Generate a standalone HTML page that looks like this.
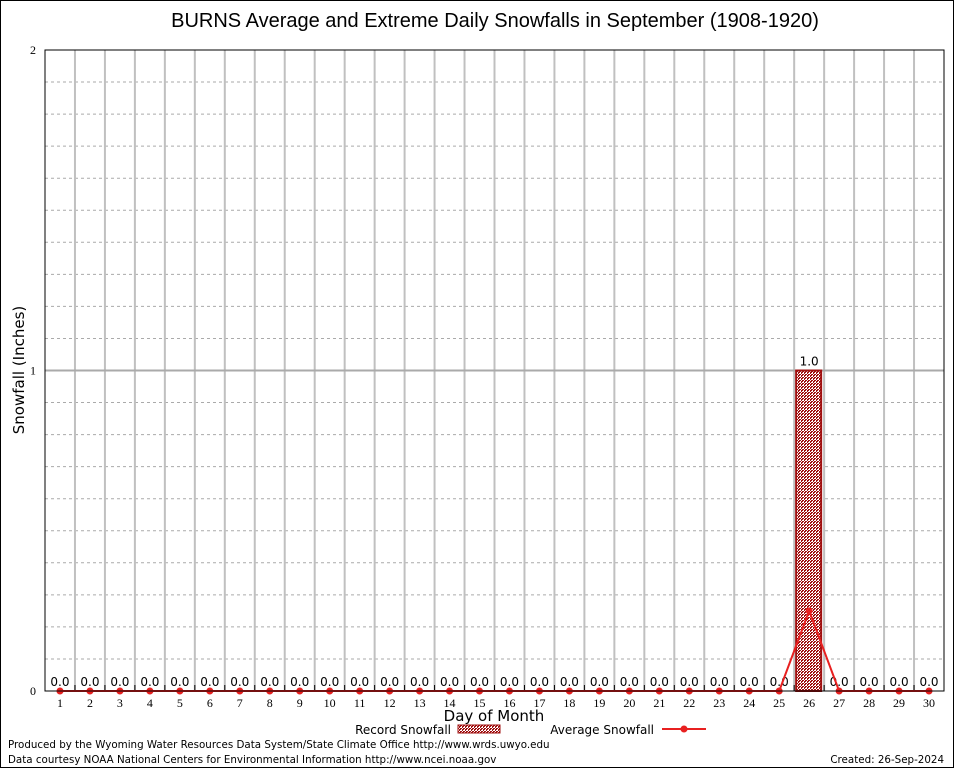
<!DOCTYPE html>
<html><head><meta charset="utf-8"><style>
body{margin:0;background:#fff;width:954px;height:768px;overflow:hidden}
svg{display:block}
</style></head><body>
<svg id="chart" width="954" height="768" font-family="DejaVu Sans, sans-serif">
<defs>
<pattern id="hatch" width="3" height="3" patternUnits="userSpaceOnUse">
<rect width="3" height="3" fill="#fff"/>
<rect width="2" height="1" fill="#a01010"/><rect x="1" y="2" width="2" height="1" fill="#a01010"/><rect x="0" y="1" width="1" height="1" fill="#a01010"/>
</pattern>
</defs>
<rect x="0.5" y="0.5" width="953" height="767" fill="#fff" stroke="#000"/>
<text x="495" y="27" font-size="20" text-anchor="middle" font-family="Liberation Sans, sans-serif">BURNS Average and Extreme Daily Snowfalls in September (1908-1920)</text>
<g id="grid"></g>
<g id="marks"></g>
<rect x="45" y="50" width="899" height="641" fill="none" stroke="#000"/>
<text transform="translate(24,370) rotate(-90)" font-size="15" text-anchor="middle">Snowfall (Inches)</text>
<text x="494" y="721" font-size="15" text-anchor="middle">Day of Month</text>
<g>
<text x="451" y="734" font-size="12" text-anchor="end">Record Snowfall</text>
<rect x="458" y="725" width="42" height="8" fill="url(#hatch)" stroke="#a01010"/>
<text x="654" y="734" font-size="12" text-anchor="end">Average Snowfall</text>
<line x1="662" y1="729" x2="706" y2="729" stroke="#e82020" stroke-width="2"/>
<circle cx="684" cy="729" r="3.5" fill="#e82020"/>
</g>
<text x="8" y="748" font-size="10.3">Produced by the Wyoming Water Resources Data System/State Climate Office http://www.wrds.uwyo.edu</text>
<text x="8" y="763" font-size="10.3">Data courtesy NOAA National Centers for Environmental Information http://www.ncei.noaa.gov</text>
<text x="944" y="763" font-size="10.3" text-anchor="end">Created: 26-Sep-2024</text>
</svg>
<script>
const days = [1,2,3,4,5,6,7,8,9,10,11,12,13,14,15,16,17,18,19,20,21,22,23,24,25,26,27,28,29,30];
const recordSnow = [0,0,0,0,0,0,0,0,0,0,0,0,0,0,0,0,0,0,0,0,0,0,0,0,0,1.0,0,0,0,0];
const avgSnow = [0,0,0,0,0,0,0,0,0,0,0,0,0,0,0,0,0,0,0,0,0,0,0,0,0,0.25,0,0,0,0];
const yTicks = [0,1,2];
const NS="http://www.w3.org/2000/svg";
const L=45,R=944,T=50,B=691,yMax=2;
const bw=(R-L)/days.length;
function xs(d){return L+(d-0.5)*bw;}
function ys(v){return B-(v/yMax)*(B-T);}
function mk(tag,attrs,parent,txt){const e=document.createElementNS(NS,tag);for(const k in attrs)e.setAttribute(k,attrs[k]);if(txt!==undefined)e.textContent=txt;parent.appendChild(e);return e;}
const grid=document.getElementById('grid'),marks=document.getElementById('marks');
for(let v=0.1;v<yMax-0.001;v+=0.1){
  if(Math.abs(v-1)<0.001)continue;
  const l=mk('line',{x1:L,x2:R,y1:ys(v),y2:ys(v),stroke:'#aaa','stroke-dasharray':'3,3'},grid);
  
  
}
for(let i=1;i<days.length;i++){
  const x=L+i*bw;
  const l=mk('line',{x1:x,x2:x,y1:T,y2:B,stroke:'#c0c0c0','stroke-width':2},grid);
  
  
  const t=mk('line',{x1:x,x2:x,y1:B-6,y2:B,stroke:'#000'},grid);
  
  
}
yTicks.forEach(v=>{
  if(v>0&&v<yMax){const g=mk('line',{x1:L,x2:R,y1:ys(v),y2:ys(v),stroke:'#aaa','stroke-width':2},grid);
  
  }
  const t=mk('text',{x:L-9,y:ys(v)+4,'font-size':12,'text-anchor':'end','font-family':'Liberation Serif, serif'},grid,String(v));
  
  
});
days.forEach((d,i)=>{
  const x=xs(d);
  const t=mk('text',{x:x,y:B+16,'font-size':12,'text-anchor':'middle','font-family':'Liberation Serif, serif'},marks,String(d));
  
  
  const v=recordSnow[i];
  if(v>0){
    const b=mk('rect',{x:x-13,y:ys(v),width:25,height:B-ys(v),fill:'url(#hatch)',stroke:'#a01010','stroke-width':2},marks);
    
    
  }
  const lb=mk('text',{x:x,y:ys(v)-5,'font-size':12,'text-anchor':'middle'},marks,v.toFixed(1));
  
  
});
const pts=days.map((d,i)=>xs(d)+','+ys(avgSnow[i])).join(' ');
const pl=mk('polyline',{points:pts,fill:'none',stroke:'#e82020','stroke-width':2},marks);


days.forEach((d,i)=>{
  const c=mk('circle',{cx:xs(d),cy:ys(avgSnow[i]),r:3.5,fill:'#e82020'},marks);
  
  
});
</script>
</body></html>
